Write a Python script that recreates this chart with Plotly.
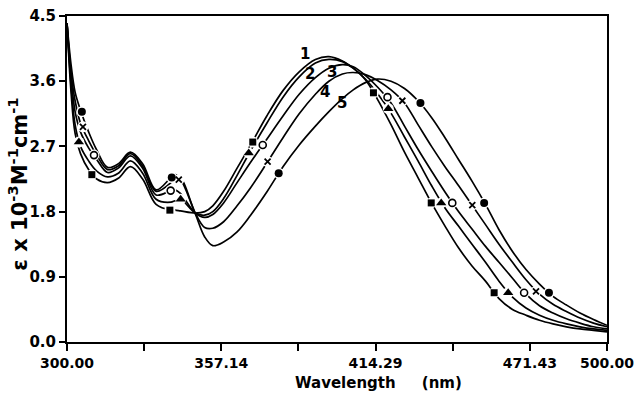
import plotly.graph_objects as go

wavelength = [300, 301.5, 303, 305, 308, 311, 315, 319, 323.5, 328,
              333, 338.5, 340, 342, 347.5, 351, 354, 358, 363, 368,
              374, 380, 386, 392, 397, 402, 406, 410.5, 415, 420,
              425, 430, 435, 440, 445, 450, 455, 460, 465, 470,
              475, 480, 485, 490, 495, 500]

eps_1 = [4.4, 3.45, 2.88, 2.6, 2.38, 2.25, 2.2, 2.26, 2.42, 2.25,
         1.9, 1.82, 1.82, 1.81, 1.78, 1.8, 1.88, 2.08, 2.4, 2.72,
         3.12, 3.47, 3.73, 3.9, 3.94, 3.88, 3.78, 3.62, 3.35, 3.0,
         2.62, 2.27, 1.92, 1.6, 1.3, 1.05, 0.84, 0.6, 0.45, 0.37,
         0.3, 0.25, 0.21, 0.18, 0.16, 0.14]
eps_2 = [4.4, 3.55, 3.0, 2.7, 2.5, 2.36, 2.28, 2.33, 2.5, 2.33,
         1.97, 1.93, 1.95, 1.97, 1.78, 1.75, 1.8, 1.98, 2.3, 2.64,
         3.02, 3.38, 3.66, 3.85, 3.9, 3.87, 3.78, 3.63, 3.43, 3.16,
         2.83, 2.5, 2.16, 1.85, 1.6, 1.35, 1.1, 0.84, 0.62, 0.47,
         0.37, 0.3, 0.25, 0.21, 0.18, 0.16]
eps_3 = [4.4, 3.65, 3.18, 2.9, 2.68, 2.52, 2.34, 2.4, 2.57, 2.4,
         2.03, 2.09, 2.1, 2.05, 1.78, 1.72, 1.76, 1.92, 2.2, 2.48,
         2.8, 3.12, 3.42, 3.65, 3.78, 3.83, 3.8, 3.68, 3.52, 3.3,
         2.98, 2.66, 2.36, 2.07, 1.8, 1.56, 1.32, 1.1, 0.88, 0.66,
         0.5, 0.4, 0.32, 0.26, 0.21, 0.18]
eps_4 = [4.4, 3.72, 3.33, 3.02, 2.78, 2.58, 2.38, 2.43, 2.6, 2.43,
         2.08, 2.2, 2.27, 2.27, 1.78, 1.58, 1.57, 1.66, 1.88, 2.13,
         2.47, 2.82, 3.15, 3.42, 3.6, 3.7, 3.72, 3.69, 3.61, 3.48,
         3.3, 3.0, 2.7, 2.42, 2.16, 1.89, 1.62, 1.35, 1.1, 0.86,
         0.66, 0.52, 0.42, 0.33, 0.26, 0.21]
eps_5 = [4.4, 3.83, 3.45, 3.2, 2.9, 2.65, 2.41, 2.46, 2.62, 2.46,
         2.1, 2.27, 2.31, 2.25, 1.77, 1.45, 1.33, 1.38, 1.52, 1.75,
         2.07, 2.42, 2.72, 2.98, 3.18, 3.36, 3.48, 3.58, 3.63, 3.6,
         3.5, 3.33, 3.1, 2.82, 2.52, 2.22, 1.9, 1.55, 1.25, 1.0,
         0.8, 0.63, 0.51, 0.4, 0.31, 0.23]

# marker points
mk_wl_1 = [309.2, 338.1, 368.8, 413.5, 434.9, 458.2]
mk_ep_1 = [2.31, 1.82, 2.76, 3.44, 1.92, 0.68]
mk_wl_2 = [304.4, 342.1, 367.3, 419.0, 438.6, 463.4]
mk_ep_2 = [2.76, 1.97, 2.61, 3.22, 1.92, 0.68]
mk_wl_3 = [310.0, 338.4, 372.5, 418.7, 442.7, 469.3]
mk_ep_3 = [2.58, 2.09, 2.72, 3.38, 1.92, 0.68]
mk_wl_4 = [305.9, 341.4, 374.3, 424.2, 450.1, 473.7]
mk_ep_4 = [2.97, 2.24, 2.49, 3.33, 1.89, 0.70]
mk_wl_5 = [305.5, 338.8, 378.4, 430.9, 454.5, 478.5]
mk_ep_5 = [3.18, 2.27, 2.33, 3.30, 1.92, 0.68]

curve_labels = ["1", "2", "3", "4", "5"]
label_wl = [388.0, 390.0, 398.0, 395.5, 402.0]
label_ep = [3.98, 3.70, 3.73, 3.45, 3.30]

x_major_ticks = [300, 357.14, 414.29, 471.43, 500]
x_major_text = ["300.00", "357.14", "414.29", "471.43", "500.00"]
x_minor_ticks = [328.57, 385.71, 442.86]
y_tickvals = [0.0, 0.9, 1.8, 2.7, 3.6, 4.5]

curves = [eps_1, eps_2, eps_3, eps_4, eps_5]
markers = [(mk_wl_1, mk_ep_1), (mk_wl_2, mk_ep_2), (mk_wl_3, mk_ep_3),
           (mk_wl_4, mk_ep_4), (mk_wl_5, mk_ep_5)]
symbols = [dict(symbol="square", size=7),
           dict(symbol="triangle-up", size=9),
           dict(symbol="circle-open", size=7, line=dict(width=1.6, color="black")),
           dict(symbol="x-thin", size=6, line=dict(width=1.8, color="black")),
           dict(symbol="circle", size=8)]

FONT = "DejaVu Sans"
fig = go.Figure()
for ys in curves:
    fig.add_trace(go.Scatter(x=wavelength, y=ys, mode="lines",
                             line=dict(color="black", width=1.7, shape="spline", smoothing=1.0),
                             hoverinfo="skip", showlegend=False))
for (mx, my) in markers:
    fig.add_trace(go.Scatter(x=mx, y=my, mode="markers",
                             marker=dict(symbol="circle", size=11, color="white"),
                             hoverinfo="skip", showlegend=False))
for (mx, my), sym in zip(markers, symbols):
    m = dict(color="black")
    m.update(sym)
    fig.add_trace(go.Scatter(x=mx, y=my, mode="markers", marker=m,
                             showlegend=False))

for t, lx, ly in zip(curve_labels, label_wl, label_ep):
    fig.add_annotation(x=lx, y=ly, text=t, showarrow=False,
                       font=dict(family=FONT, size=15, color="#000000", weight="bold"))

fig.add_annotation(xref="paper", yref="paper", x=0.576, y=-0.127,
                   text="Wavelength&nbsp;&nbsp;&nbsp;&nbsp;&nbsp;(nm)", showarrow=False,
                   font=dict(family=FONT, size=15, color="black", weight="bold"),
                   xanchor="center", yanchor="middle")
fig.add_annotation(xref="paper", yref="paper", x=-0.091, y=0.485,
                   text="ε x 10<sup>-3</sup>M<sup>-1</sup>cm<sup>-1</sup>", showarrow=False,
                   textangle=-90,
                   font=dict(family=FONT, size=21, color="black", weight="bold"),
                   xanchor="center", yanchor="middle")

fig.update_xaxes(range=[300, 500], tickvals=x_major_ticks, ticktext=x_major_text,
                 ticks="outside", ticklen=7, tickwidth=1.5, tickcolor="black",
                 minor=dict(tickvals=x_minor_ticks, ticks="outside", ticklen=7,
                            tickwidth=1.5, tickcolor="black", showgrid=False),
                 showline=True, linecolor="black", linewidth=2, mirror=True,
                 showgrid=False, zeroline=False, ticklabeloverflow="allow",
                 automargin=False,
                 tickfont=dict(family=FONT, size=14, color="black", weight="bold"))
fig.update_yaxes(range=[0, 4.5], tickvals=y_tickvals, tickformat=".1f",
                 ticks="outside", ticklen=6, tickwidth=1.5, tickcolor="black",
                 showline=True, linecolor="black", linewidth=2, mirror=True,
                 showgrid=False, zeroline=False, automargin=False,
                 tickfont=dict(family=FONT, size=15, color="black", weight="bold"))
fig.update_layout(width=635, height=394, margin=dict(l=67, r=28, t=16, b=52, autoexpand=False),
                  plot_bgcolor="white", paper_bgcolor="white", showlegend=False)
fig.write_html("out.html")
